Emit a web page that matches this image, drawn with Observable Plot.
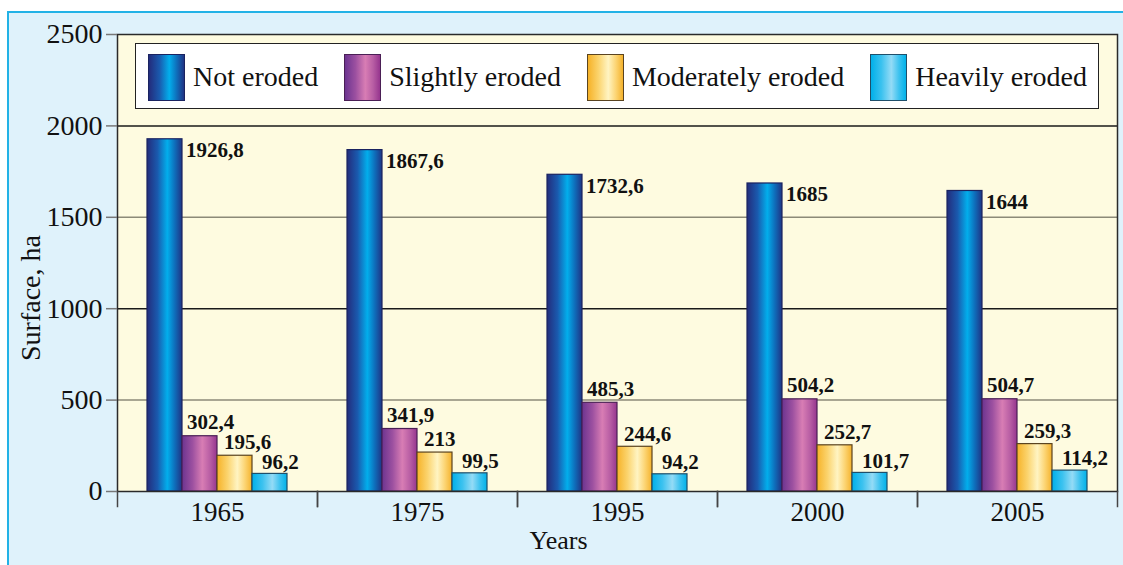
<!DOCTYPE html>
<html><head><meta charset="utf-8">
<script src="https://cdn.jsdelivr.net/npm/d3@7"></script>
<script src="https://cdn.jsdelivr.net/npm/@observablehq/plot@0.6"></script>
<style>
html,body{margin:0;padding:0;background:#fff;width:1123px;height:565px;overflow:hidden}
#bg{position:absolute;left:7px;top:11px;width:1130px;height:570px;background:#dff2fb;border:2px solid #22b2e6;box-sizing:border-box}
#chart{position:absolute;left:0;top:0}
#legend{position:absolute;left:135px;top:43px;width:964px;height:66px;box-sizing:border-box;border:1.5px solid #222;background:#fff;display:flex;align-items:center;justify-content:space-between;padding:2px 11px 0 12px;font-family:"Liberation Serif",serif;font-size:28px;color:#111}
.item{display:flex;align-items:center}
.sw{width:37px;height:47px;box-sizing:border-box;border:1.3px solid #333;margin-right:8px}
</style></head><body>
<div id="bg"></div><div id="chart"></div><div id="legend"></div>
<script>
// ---- data ----
const years = ["1965", "1975", "1995", "2000", "2005"];
const series = ["Not eroded", "Slightly eroded", "Moderately eroded", "Heavily eroded"];
const notEroded = [1926.8, 1867.6, 1732.6, 1685, 1644];
const slightlyEroded = [302.4, 341.9, 485.3, 504.2, 504.7];
const moderatelyEroded = [195.6, 213, 244.6, 252.7, 259.3];
const heavilyEroded = [96.2, 99.5, 94.2, 101.7, 114.2];
const yTicks = [0, 500, 1000, 1500, 2000, 2500];
const xLabel = "Years";
const yLabel = "Surface, ha";

// ---- styles ----
const gradients = [
  [[0, "#232c7c"], [0.3, "#1a5aae"], [0.58, "#02aeec"], [0.8, "#0f6cb9"], [1, "#1f3484"]],
  [[0, "#6c3490"], [0.3, "#9c50a0"], [0.58, "#d87db4"], [0.8, "#b85ea4"], [1, "#96358e"]],
  [[0, "#f6b228"], [0.3, "#fbd46e"], [0.58, "#fff4c2"], [0.8, "#fcd472"], [1, "#f4b22c"]],
  [[0, "#00b0ea"], [0.3, "#3cc2ef"], [0.58, "#94dbf6"], [0.8, "#3cc2ef"], [1, "#00b2ea"]]
];
const strokes = ["#1a2360", "#4a1f55", "#5a4420", "#1f4f6a"];
const labelDx = [21, -13, -11, -8];
const labelDy = [11, -14, -13, -12];

const valuesBySeries = [notEroded, slightlyEroded, moderatelyEroded, heavilyEroded];
const rows = [];
series.forEach((s, i) => years.forEach((y, j) => rows.push({year: y, series: s, value: valuesBySeries[i][j]})));
const fmt = v => String(v).replace(".", ",");

const W = 1123, H = 565, mT = 34, mB = 74, mL = 116, mR = 5;
const plotH = H - mT - mB;

const marks = [
  Plot.frame({fill: "#fefbe0", facet: "super"}),
  Plot.ruleY([500, 1500], {stroke: "#8c8a78", strokeWidth: 1.5}),
  Plot.ruleY([1000, 2000], {stroke: "#1a1a1a", strokeWidth: 1.5}),
];
series.forEach((s, i) => {
  const data = rows.filter(d => d.series === s);
  marks.push(Plot.barY(data, {fx: "year", x: "series", y: "value", fill: `url(#grad${i})`, stroke: strokes[i], strokeWidth: 1.2}));
});
series.forEach((s, i) => {
  const data = rows.filter(d => d.series === s);
  marks.push(Plot.text(data, {fx: "year", x: "series", y: "value", text: d => fmt(d.value), textAnchor: "start",
    dx: labelDx[i], dy: labelDy[i], fontWeight: "bold", fontSize: 21, fill: "#111"}));
});
marks.push(
  Plot.frame({stroke: "#2a2a2a", strokeWidth: 1.5, facet: "super"}),
  Plot.frame({anchor: "left", stroke: "#444", strokeWidth: 1.5, insetTop: plotH, insetBottom: -15}),
  Plot.frame({anchor: "right", stroke: "#444", strokeWidth: 1.5, insetTop: plotH, insetBottom: -15}),
  Plot.axisY({ticks: yTicks, tickSize: 11, tickPadding: 4, stroke: "#777", strokeWidth: 1.5, fill: "#111", fontSize: 28, label: null, tickFormat: d => String(d)}),
  Plot.axisFx({anchor: "bottom", tickSize: 0, tickPadding: 10, fontSize: 27, fill: "#111", label: null}),
  Plot.text([xLabel], {frameAnchor: "bottom", dx: -59, dy: 57, fontSize: 26, fill: "#111", facet: "super"}),
  Plot.text([yLabel], {frameAnchor: "left", rotate: -90, dx: -86, dy: 98, fontSize: 28, fill: "#111", facet: "super"})
);

const svg = Plot.plot({
  width: W, height: H,
  marginTop: mT, marginBottom: mB, marginLeft: mL, marginRight: mR,
  style: {fontFamily: "'Liberation Serif', serif", background: "transparent", overflow: "visible"},
  fx: {domain: years, padding: 0, axis: null},
  x: {domain: series, paddingInner: 0, paddingOuter: 0.78, axis: null},
  y: {domain: [0, 2500], axis: null},
  marks
});

const defs = d3.select(svg).insert("defs", ":first-child");
gradients.forEach((stops, i) => {
  const g = defs.append("linearGradient").attr("id", `grad${i}`).attr("x1", 0).attr("x2", 1).attr("y1", 0).attr("y2", 0);
  stops.forEach(([o, c]) => g.append("stop").attr("offset", o).attr("stop-color", c));
});
document.getElementById("chart").appendChild(svg);

// legend
const leg = d3.select("#legend");
series.forEach((s, i) => {
  const it = leg.append("div").attr("class", "item");
  const css = "linear-gradient(to right," + gradients[i].map(([o, c]) => `${c} ${o * 100}%`).join(",") + ")";
  it.append("div").attr("class", "sw").style("background", css).style("border-color", strokes[i]);
  it.append("span").text(s);
});
</script>
</body></html>
